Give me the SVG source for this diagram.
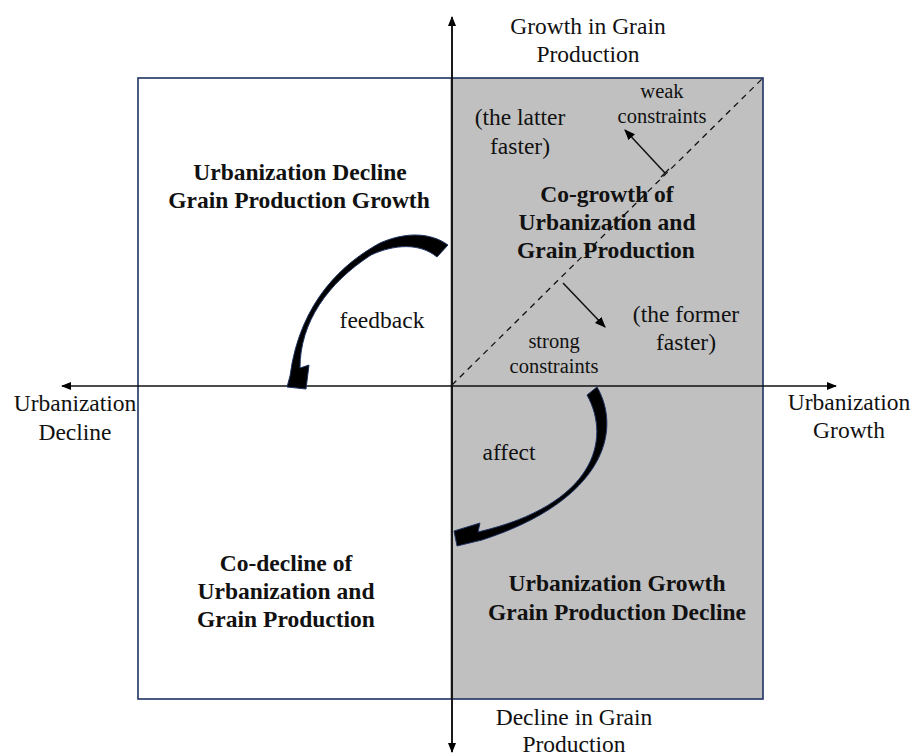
<svg xmlns="http://www.w3.org/2000/svg" width="912" height="756" viewBox="0 0 912 756">
  <defs>
    <marker id="axisHead" viewBox="0 0 10 10" refX="9" refY="5" markerWidth="10" markerHeight="10" markerUnits="userSpaceOnUse" orient="auto">
      <path d="M0,1 L10,5 L0,9 Z" fill="#000"/>
    </marker>
    <marker id="smallHead" viewBox="0 0 10 10" refX="9" refY="5" markerWidth="11" markerHeight="11" markerUnits="userSpaceOnUse" orient="auto">
      <path d="M0,1 L10,5 L0,9 Z" fill="#000"/>
    </marker>
    <style>
      .t { font-family: "Liberation Serif", "Times New Roman", serif; font-size: 23.5px; fill: #111; text-anchor: middle; }
      .s { font-family: "Liberation Serif", "Times New Roman", serif; font-size: 20.5px; fill: #111; text-anchor: middle; }
      .b { font-family: "Liberation Serif", "Times New Roman", serif; font-size: 23.5px; font-weight: bold; fill: #111; text-anchor: middle; }
      .frame { fill: none; stroke: #1f3361; stroke-width: 1.6; }
      .axis { stroke: #111; stroke-width: 1.6; fill: none; }
      .curve { fill: #000; stroke: #1f3361; stroke-width: 1; stroke-linejoin: round; }
    </style>
  </defs>

  <rect width="912" height="756" fill="#fff"/>

  <!-- quadrant panels -->
  <g id="quadrants">
    <rect x="450" y="78" width="313" height="621" fill="#c0c0c0"/>
    <rect class="frame" x="138" y="78" width="625" height="621"/>
  </g>

  <!-- connectors: axes, diagonal, constraint arrows, curved arrows -->
  <g id="connectors">
    <line class="axis" x1="452" y1="752" x2="452" y2="17" marker-end="url(#axisHead)"/>
    <line class="axis" x1="452" y1="18" x2="452" y2="752" marker-end="url(#axisHead)"/>
    <line class="axis" x1="450" y1="386" x2="62" y2="386" marker-end="url(#axisHead)"/>
    <line class="axis" x1="450" y1="386" x2="836" y2="386" marker-end="url(#axisHead)"/>
    <line x1="452" y1="385" x2="763" y2="78" stroke="#111" stroke-width="1.3" stroke-dasharray="6,5"/>
    <line x1="665" y1="173" x2="625" y2="130" stroke="#111" stroke-width="1.5" marker-end="url(#smallHead)"/>
    <line x1="661" y1="177" x2="669" y2="169" stroke="#111" stroke-width="1.3"/>
    <line x1="563" y1="283" x2="605" y2="327" stroke="#111" stroke-width="1.5" marker-end="url(#smallHead)"/>
    <!-- tapered curved arrows: thick tail, thin shaft, one-sided head -->
    <path id="feedback-arrow" class="curve" d="M448,245 C430,232 405,232 380,243 C345,262 300,300 290,376 L287,387 L306,389 L309,365 L300,368 C300,322 328,283 371,255 C395,244 420,243 437,257 Z"/>
    <path id="affect-arrow" class="curve" d="M597,387 C622,430 605,500 482,540 L457,546 L454,531 L480,523 L478,532 C594,505 612,440 587,395 Z"/>
  </g>

  <!-- axis labels -->
  <g id="label-top">
    <text class="t" x="588" y="34">Growth in Grain</text>
    <text class="t" x="588" y="62">Production</text>
  </g>
  <g id="label-bottom">
    <text class="t" x="574" y="725">Decline in Grain</text>
    <text class="t" x="574" y="752">Production</text>
  </g>
  <g id="label-left">
    <text class="t" x="75" y="411">Urbanization</text>
    <text class="t" x="75" y="440">Decline</text>
  </g>
  <g id="label-right">
    <text class="t" x="849" y="410">Urbanization</text>
    <text class="t" x="849" y="438">Growth</text>
  </g>

  <!-- quadrant titles -->
  <g id="q-upper-left">
    <text class="b" x="300" y="180">Urbanization Decline</text>
    <text class="b" x="299" y="208">Grain Production Growth</text>
  </g>
  <g id="q-upper-right">
    <text class="b" x="607" y="202">Co-growth of</text>
    <text class="b" x="607" y="230">Urbanization and</text>
    <text class="b" x="606" y="258">Grain Production</text>
  </g>
  <g id="q-lower-left">
    <text class="b" x="286" y="571">Co-decline of</text>
    <text class="b" x="286" y="599">Urbanization and</text>
    <text class="b" x="286" y="627">Grain Production</text>
  </g>
  <g id="q-lower-right">
    <text class="b" x="617" y="591">Urbanization Growth</text>
    <text class="b" x="617" y="620">Grain Production Decline</text>
  </g>

  <!-- annotations -->
  <g id="note-latter">
    <text class="t" x="520" y="125">(the latter</text>
    <text class="t" x="520" y="154">faster)</text>
  </g>
  <g id="note-former">
    <text class="t" x="686" y="322">(the former</text>
    <text class="t" x="686" y="350">faster)</text>
  </g>
  <g id="note-weak">
    <text class="s" x="662" y="98">weak</text>
    <text class="s" x="662" y="123">constraints</text>
  </g>
  <g id="note-strong">
    <text class="s" x="554" y="348">strong</text>
    <text class="s" x="554" y="373">constraints</text>
  </g>
  <g id="label-feedback">
    <text class="t" x="382" y="328">feedback</text>
  </g>
  <g id="label-affect">
    <text class="t" x="509" y="460">affect</text>
  </g>
</svg>
